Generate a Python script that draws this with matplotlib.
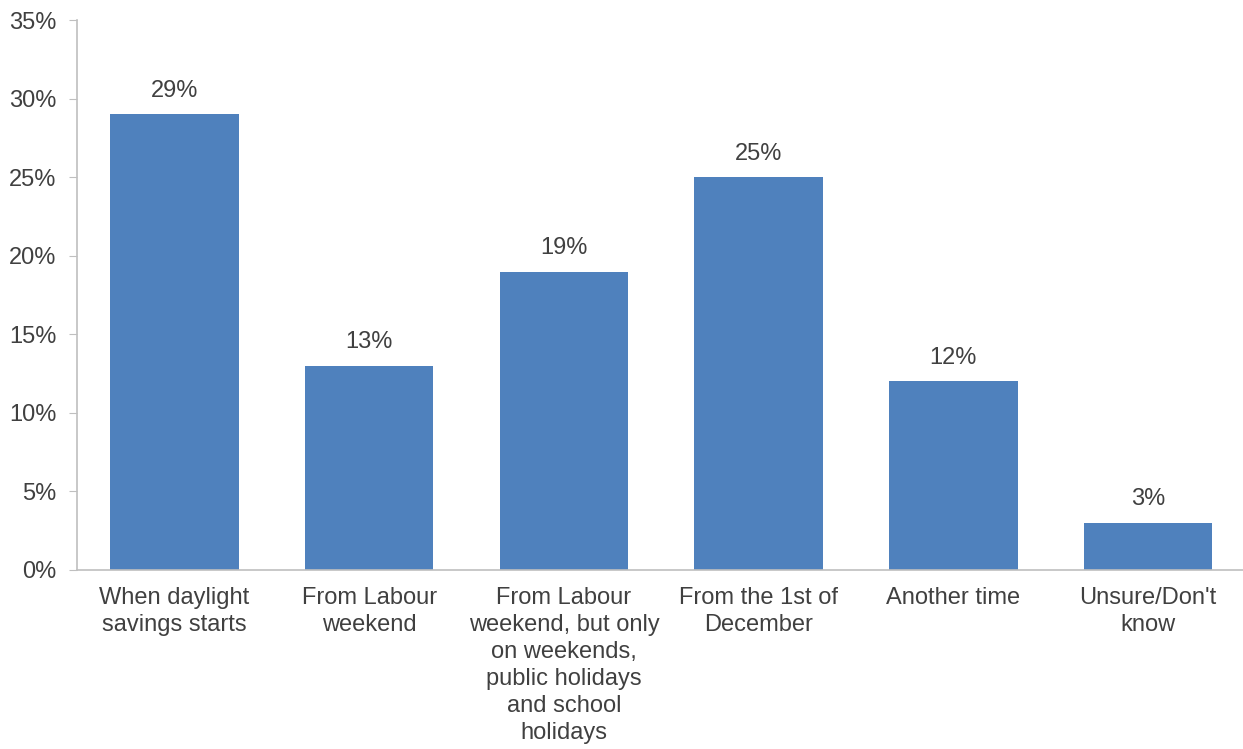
import numpy as np
import matplotlib.pyplot as plt
from matplotlib.ticker import FuncFormatter

plt.rcParams['font.family'] = ['Liberation Sans', 'DejaVu Sans']

# Data
categories = ["When daylight\nsavings starts", "From Labour\nweekend",
              "From Labour\nweekend, but only\non weekends,\npublic holidays\nand school\nholidays",
              "From the 1st of\nDecember", "Another time", "Unsure/Don't\nknow"]
values = [29, 13, 19, 25, 12, 3]

text_col = "#404040"
grey = "#BFBFBF"

fig = plt.figure(figsize=(12.43, 7.49), dpi=100)
ax = fig.add_axes([0.062, 0.239, 0.94, 0.734])

x = np.arange(len(categories))
ax.bar(x, values, width=0.66, color="#4F81BD")

for xi, v in zip(x, values):
    ax.text(xi, v + 0.8, f"{v}%", ha="center", va="bottom", fontsize=17, color=text_col)

ax.set_xlim(-0.5, len(categories) - 0.5)
ax.set_ylim(0, 35)
ax.set_yticks(np.arange(0, 36, 5))
ax.yaxis.set_major_formatter(FuncFormatter(lambda v, p: f"{v:.0f}%"))
ax.set_xticks(x)
ax.set_xticklabels(categories, fontsize=17, color=text_col, linespacing=1.3)
ax.tick_params(axis="x", length=0, pad=12)
ax.tick_params(axis="y", length=6, color=grey, labelsize=17, labelcolor=text_col, pad=9)

for s in ["top", "right"]:
    ax.spines[s].set_visible(False)
for s in ["left", "bottom"]:
    ax.spines[s].set_color(grey)
    ax.spines[s].set_linewidth(1.2)

fig.savefig("out.png", dpi=100)
